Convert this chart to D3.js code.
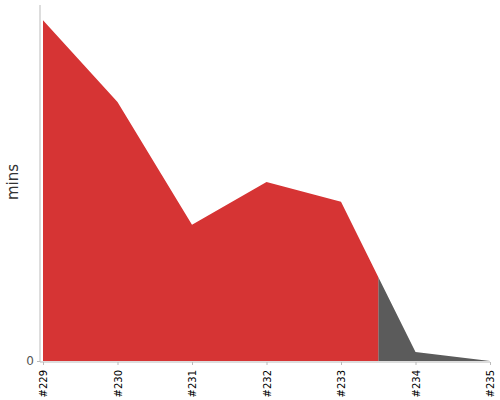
<!DOCTYPE html>
<html><head><meta charset="utf-8">
<script src="https://cdn.jsdelivr.net/npm/d3@7"></script>
<style>body{margin:0;background:#fff;font-family:"DejaVu Sans",sans-serif}</style>
</head><body>
<svg id="c" width="500" height="400"></svg>
<script>
const builds = ["#229","#230","#231","#232","#233","#234","#235"];
const minutes = [38.3, 29.1, 15.3, 20.1, 17.9, 1.0, 0];
const splitAt = 4.5; // position between #233 and #234 where red ends
const yTicks = [0];

const svg = d3.select("#c");
const x = d3.scaleLinear().domain([0, builds.length-1]).range([43, 490]);
const y = d3.scaleLinear().domain([0, 40]).range([361, 5]);

const area = d3.area().x((d,i)=>x(i)).y0(y(0)).y1(d=>y(d));
const defs = svg.append("defs");
defs.append("clipPath").attr("id","left").append("rect")
  .attr("x",0).attr("y",0).attr("width",x(splitAt)).attr("height",400);
defs.append("clipPath").attr("id","right").append("rect")
  .attr("x",x(splitAt)).attr("y",0).attr("width",500).attr("height",400);

svg.append("path").datum(minutes).attr("d",area).attr("fill","#5b5b5b").attr("clip-path","url(#right)");
svg.append("path").datum(minutes).attr("d",area).attr("fill","#d63434").attr("clip-path","url(#left)");

// y axis
const ya = svg.append("g").attr("transform","translate(40,0)")
  .call(d3.axisLeft(y).tickValues(yTicks).tickSize(3).tickSizeOuter(0).tickFormat(d3.format("d")));
ya.select(".domain").attr("stroke","#bbb").attr("d","M0,5V362");
ya.selectAll(".tick line").attr("stroke","#bbb");
ya.selectAll(".tick text").attr("font-size",12).attr("fill","#555").attr("x",-6).attr("font-family","DejaVu Sans");

// x axis
const xa = svg.append("g").attr("transform","translate(0,362)")
  .call(d3.axisBottom(x).tickValues(d3.range(builds.length)).tickSize(3).tickSizeOuter(0).tickFormat(i=>builds[i]));
xa.select(".domain").attr("stroke","#bbb").attr("d","M40,0H490");
xa.selectAll(".tick line").attr("stroke","#bbb");
xa.selectAll(".tick text").attr("font-size",10).attr("fill","#000").attr("font-family","DejaVu Sans")
  .attr("text-anchor","end").attr("transform","rotate(-90)").attr("x",-8).attr("y",0).attr("dy","0.35em");

svg.append("text").attr("transform","translate(18,182) rotate(-90)").attr("text-anchor","middle")
  .attr("font-size",15).attr("fill","#333").attr("font-family","DejaVu Sans").text("mins");
</script>
</body></html>
